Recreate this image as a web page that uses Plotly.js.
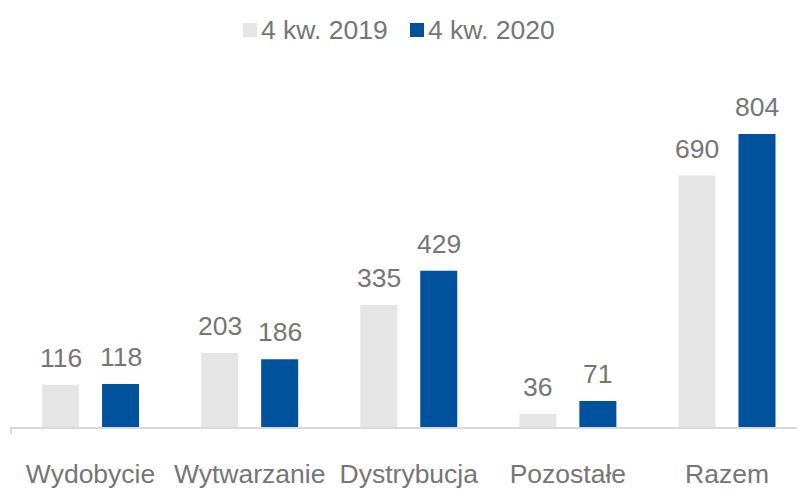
<!DOCTYPE html>
<html>
<head>
<meta charset="utf-8">
<script src="https://cdn.plot.ly/plotly-3.0.1.min.js"></script>
<style>html,body{margin:0;padding:0;background:#fff;}#chart{width:797px;height:491px;}</style>
</head>
<body>
<div id="chart"></div>
<script>
const categories = ["Wydobycie", "Wytwarzanie", "Dystrybucja", "Pozostałe", "Razem"];
const seriesNames = ["4 kw. 2019", "4 kw. 2020"];
const values2019 = [116, 203, 335, 36, 690];
const values2020 = [118, 186, 429, 71, 804];

const colors = ["#e5e5e5", "#00529c"];
const textColor = "#767676";
const fontFamily = "Liberation Sans, Arial, sans-serif";
const fontSize = 26.5;
const bargap = 0.246, bargroupgap = 0.383;
const slot = (1 - bargap) / 2;

const W = 797, H = 491;
const M = {l: 11, r: 0, t: 60, b: 64};
const plotW = W - M.l - M.r, plotH = H - M.t - M.b;
const px2x = p => (p - M.l) / plotW;
const py2y = p => (H - M.b - p) / plotH;

const traces = [values2019, values2020].map((vals, k) => ({
  type: "bar",
  name: seriesNames[k],
  x: categories,
  y: vals,
  marker: {color: colors[k]},
  hoverinfo: "skip",
  showlegend: false
}));

const annotations = [];
[values2019, values2020].forEach((vals, k) => {
  vals.forEach((v, i) => {
    annotations.push({
      xref: "x", yref: "y",
      x: i + (k === 0 ? -slot / 2 : slot / 2),
      y: v,
      text: String(v),
      showarrow: false,
      xanchor: "center", yanchor: "bottom",
      yshift: 10,
      font: {family: fontFamily, size: fontSize, color: textColor}
    });
  });
});

// custom legend (layout only)
const legendSquares = [243, 410];
const legendTexts = [259, 426];
const shapes = [{
  type: "line", xref: "paper", yref: "paper",
  x0: 0, x1: 0, y0: 0, y1: -7 / plotH,
  line: {color: "#d9d9d9", width: 2}
}];
seriesNames.forEach((name, k) => {
  shapes.push({
    type: "rect", xref: "paper", yref: "paper",
    x0: px2x(legendSquares[k]), x1: px2x(legendSquares[k] + 14),
    y0: py2y(37), y1: py2y(23),
    fillcolor: colors[k], line: {width: 0}
  });
  annotations.push({
    xref: "paper", yref: "paper",
    x: px2x(legendTexts[k]), y: py2y(30),
    xanchor: "left", yanchor: "middle",
    text: name, showarrow: false,
    font: {family: fontFamily, size: fontSize, color: textColor}
  });
});

const layout = {
  width: W, height: H,
  margin: M,
  paper_bgcolor: "#fff", plot_bgcolor: "#fff",
  barmode: "group",
  bargap: bargap, bargroupgap: bargroupgap,
  showlegend: false,
  xaxis: {
    type: "category",
    range: [-0.5, 4.44],
    showline: true, linecolor: "#d9d9d9", linewidth: 2,
    ticks: "", showgrid: false, zeroline: false,
    tickfont: {family: fontFamily, size: fontSize, color: textColor},
    ticklabelstandoff: 22
  },
  yaxis: {
    range: [0, 1007],
    visible: false, showgrid: false, zeroline: false
  },
  shapes: shapes,
  annotations: annotations
};

Plotly.newPlot("chart", traces, layout, {displayModeBar: false, staticPlot: true});
</script>
</body>
</html>
